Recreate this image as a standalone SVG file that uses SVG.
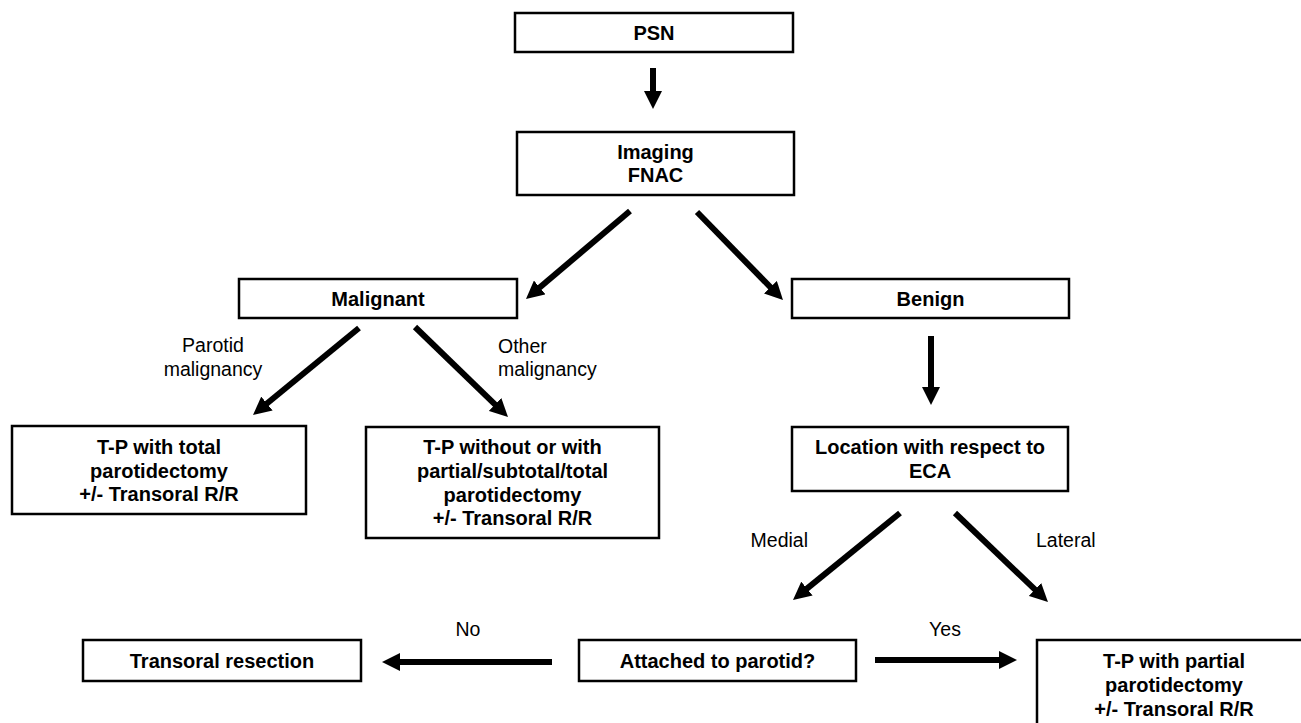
<svg xmlns="http://www.w3.org/2000/svg" width="1301" height="723" viewBox="0 0 1301 723">
<style>
.box{fill:#fff;stroke:#000;stroke-width:2.5}
.t{font-family:"Liberation Sans",Arial,sans-serif;font-size:20px;font-weight:bold;fill:#000;text-anchor:middle}
.l{font-family:"Liberation Sans",Arial,sans-serif;font-size:19.5px;fill:#000}
.c{stroke:#000;stroke-width:6;fill:none;marker-end:url(#ah)}
</style>
<defs>
<marker id="ah" markerUnits="userSpaceOnUse" markerWidth="18" markerHeight="18" refX="2" refY="9" orient="auto">
<path d="M0,0 L18,9 L0,18 z" fill="#000"/>
</marker>
</defs>
<rect width="1301" height="723" fill="#fff"/>
<g id="connectors">
<line class="c" x1="653" y1="68" x2="653" y2="93"/>
<line class="c" x1="630" y1="211" x2="538.2" y2="288.7"/>
<line class="c" x1="697" y1="212" x2="771.8" y2="288.6"/>
<line class="c" x1="359" y1="328" x2="265.4" y2="404.8"/>
<line class="c" x1="415" y1="327" x2="496.5" y2="405.9"/>
<line class="c" x1="931" y1="336" x2="931" y2="389"/>
<line class="c" x1="900" y1="513" x2="805.4" y2="589.9"/>
<line class="c" x1="955" y1="513" x2="1036.4" y2="590.9"/>
<line class="c" x1="552" y1="662" x2="398" y2="662"/>
<line class="c" x1="875" y1="660" x2="1001" y2="660"/>
<text class="l" x="213" y="352" text-anchor="middle">Parotid</text>
<text class="l" x="213" y="376" text-anchor="middle">malignancy</text>
<text class="l" x="498" y="353">Other</text>
<text class="l" x="498" y="376">malignancy</text>
<text class="l" x="808" y="547" text-anchor="end">Medial</text>
<text class="l" x="1036" y="547">Lateral</text>
<text class="l" x="468" y="636" text-anchor="middle">No</text>
<text class="l" x="945" y="636" text-anchor="middle">Yes</text>
</g>
<g id="psn"><rect class="box" x="515" y="13" width="278" height="39"/><text class="t" x="654" y="39.5">PSN</text></g>
<g id="imaging"><rect class="box" x="517" y="132" width="277" height="63"/><text class="t" x="655.5" y="158.5">Imaging</text><text class="t" x="655.5" y="182">FNAC</text></g>
<g id="malignant"><rect class="box" x="239" y="279" width="278" height="39"/><text class="t" x="378" y="305.5">Malignant</text></g>
<g id="benign"><rect class="box" x="792" y="279" width="277" height="39"/><text class="t" x="930.5" y="305.5">Benign</text></g>
<g id="tp-total"><rect class="box" x="12" y="426" width="294" height="88"/><text class="t" x="159" y="454">T-P with total</text><text class="t" x="159" y="477.5">parotidectomy</text><text class="t" x="159" y="501">+/- Transoral R/R</text></g>
<g id="tp-without"><rect class="box" x="366" y="427" width="293" height="111"/><text class="t" x="512.5" y="454">T-P without or with</text><text class="t" x="512.5" y="478">partial/subtotal/total</text><text class="t" x="512.5" y="501.5">parotidectomy</text><text class="t" x="512.5" y="525">+/- Transoral R/R</text></g>
<g id="location"><rect class="box" x="792" y="427" width="276" height="64"/><text class="t" x="930" y="454">Location with respect to</text><text class="t" x="930" y="477.5">ECA</text></g>
<g id="transoral"><rect class="box" x="83" y="640" width="278" height="41"/><text class="t" x="222" y="667.5">Transoral resection</text></g>
<g id="attached"><rect class="box" x="579" y="640" width="277" height="41"/><text class="t" x="717.5" y="667.5">Attached to parotid?</text></g>
<g id="tp-partial"><rect class="box" x="1037" y="640" width="274" height="100"/><text class="t" x="1174" y="668">T-P with partial</text><text class="t" x="1174" y="692">parotidectomy</text><text class="t" x="1174" y="716">+/- Transoral R/R</text></g>
</svg>
